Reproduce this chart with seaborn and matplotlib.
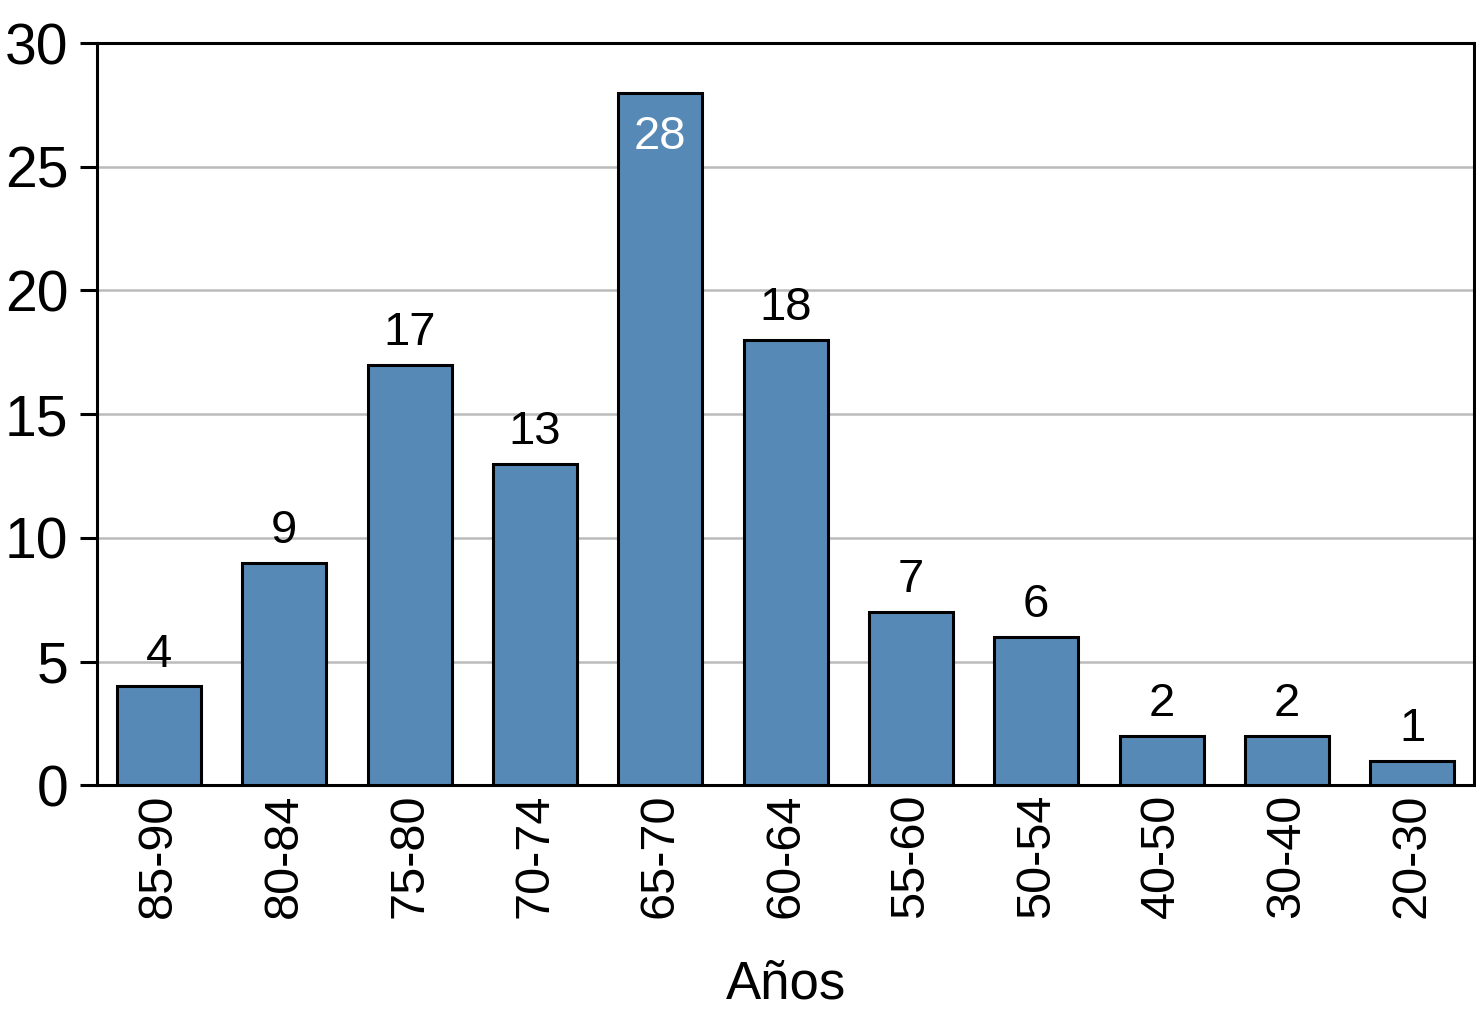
import matplotlib
matplotlib.use("Agg")
import matplotlib.pyplot as plt
import seaborn as sns
import pandas as pd

# age ranges and counts
age_ranges = ["85-90", "80-84", "75-80", "70-74", "65-70", "60-64",
              "55-60", "50-54", "40-50", "30-40", "20-30"]
counts = [4, 9, 17, 13, 28, 18, 7, 6, 2, 2, 1]
y_ticks = [0, 5, 10, 15, 20, 25, 30]

df = pd.DataFrame({"rango": age_ranges, "n": counts})

sns.set_style("white")
plt.rcParams["font.family"] = ["Liberation Sans", "DejaVu Sans"]
plt.rcParams["text.color"] = "black"
plt.rcParams["axes.labelcolor"] = "black"
plt.rcParams["xtick.color"] = "black"
plt.rcParams["ytick.color"] = "black"

fig, ax = plt.subplots(figsize=(14.76, 10.24), dpi=100)
sns.barplot(data=df, x="rango", y="n", color="#5689b5", saturation=1,
            width=0.67, edgecolor="black", linewidth=2.2, ax=ax, zorder=3)

ax.set_ylim(0, 30)
ax.set_xlim(-0.49, len(age_ranges) - 0.51)
ax.set_yticks(y_ticks)
ax.yaxis.grid(True, color="#bbbbbb", linewidth=1.8, zorder=0)
ax.set_axisbelow(True)

for spine in ax.spines.values():
    spine.set_visible(True)
    spine.set_color("black")
    spine.set_linewidth(2.2)

ax.tick_params(axis="y", labelsize=41, length=12, width=2.2, direction="out",
               left=True, pad=9)
ax.tick_params(axis="x", labelsize=35, length=0, pad=6)
plt.setp(ax.get_xticklabels(), rotation=90)

ax.set_ylabel("")
ax.set_xlabel("Años", fontsize=38, labelpad=30)

# value labels: above the bar, except the tallest which sits inside in white
for i, v in enumerate(counts):
    if v >= 28:
        ax.text(i, v - 0.9, str(v), ha="center", va="top", fontsize=34,
                color="white", zorder=4)
    else:
        ax.text(i, v + 0.4, str(v), ha="center", va="bottom", fontsize=34,
                color="black", zorder=4)

fig.subplots_adjust(left=0.066, right=0.9985, top=0.958, bottom=0.233)
fig.savefig("out.png", dpi=100)
